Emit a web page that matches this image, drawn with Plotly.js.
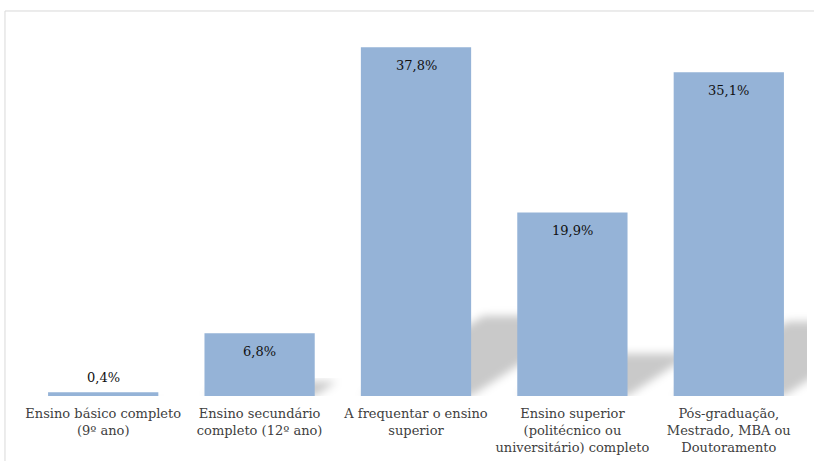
<!DOCTYPE html>
<html>
<head>
<meta charset="utf-8">
<script src="https://cdn.plot.ly/plotly-3.0.1.min.js"></script>
<style>
  html, body { margin: 0; padding: 0; background: #ffffff; }
  #chart { width: 814px; height: 461px; }
</style>
</head>
<body>
<div id="chart"></div>
<script>
// ---- data ----
var categories = [
  "Ensino básico completo<br>(9º ano)",
  "Ensino secundário<br>completo (12º ano)",
  "A frequentar o ensino<br>superior",
  "Ensino superior<br>(politécnico ou<br>universitário) completo",
  "Pós-graduação,<br>Mestrado, MBA ou<br>Doutoramento"
];
var values = [0.4, 6.8, 37.8, 19.9, 35.1];
var valueLabels = ["0,4%", "6,8%", "37,8%", "19,9%", "35,1%"];

// ---- build ----
var serif = "DejaVu Serif, serif";
var positions = categories.map(function (_, i) { return i; });
var barGap = 0.295;
var halfW = (1 - barGap) / 2;

var trace = {
  type: 'bar',
  x: positions,
  y: values,
  marker: { color: '#95B3D7', line: { width: 0 } },
  hoverinfo: 'none'
};

var annotations = values.map(function (v, i) {
  var outside = v < 3;
  return {
    x: positions[i], y: v, xref: 'x', yref: 'y',
    text: valueLabels[i],
    showarrow: false,
    yanchor: outside ? 'bottom' : 'top',
    yshift: outside ? 5 : -9,
    font: { family: serif, size: 13, color: '#111111' }
  };
});

// perspective shadows cast back-right from each bar
var rise = 0.23, lean = 0.0207;
var shapes = values.map(function (v, i) {
  var x0 = positions[i] - halfW, x1 = positions[i] + halfW;
  var d = lean * v, t = rise * v;
  return {
    type: 'path', xref: 'x', yref: 'y', layer: 'below',
    path: 'M ' + x0 + ',0 L ' + x1 + ',0 L ' + (x1 + d) + ',' + t + ' L ' + (x0 + d) + ',' + t + ' Z',
    fillcolor: 'rgba(0,0,0,0.21)',
    line: { width: 0 }
  };
});
// outer chart border
shapes.push({
  type: 'rect', xref: 'paper', yref: 'paper', layer: 'above',
  x0: -0.0256, x1: 1.1, y0: -0.4, y1: 1.0434,
  line: { color: '#d9d9d9', width: 1 },
  fillcolor: 'rgba(0,0,0,0)'
});

var layout = {
  width: 814, height: 461,
  margin: { l: 25, r: 7, t: 27, b: 65 },
  paper_bgcolor: '#ffffff', plot_bgcolor: '#ffffff',
  showlegend: false,
  bargap: barGap,
  font: { family: serif },
  xaxis: {
    type: 'linear',
    range: [-0.5, positions.length - 0.5],
    tickvals: positions,
    ticktext: categories,
    tickangle: 0,
    showgrid: false, zeroline: false, showline: false, ticks: '',
    tickfont: { family: serif, size: 13, color: '#404040' },
    ticklabelstandoff: 8,
    fixedrange: true
  },
  yaxis: {
    range: [0, 40],
    showgrid: false, zeroline: false, showline: false,
    showticklabels: false, ticks: '',
    fixedrange: true
  },
  annotations: annotations,
  shapes: shapes
};

Plotly.newPlot('chart', [trace], layout, { staticPlot: true, displayModeBar: false }).then(function (gd) {
  var svg = gd.querySelector('svg.main-svg');
  var ns = 'http://www.w3.org/2000/svg';
  var defs = svg.querySelector('defs') || svg.insertBefore(document.createElementNS(ns, 'defs'), svg.firstChild);
  var f = document.createElementNS(ns, 'filter');
  f.setAttribute('id', 'shadowBlur');
  f.setAttribute('x', '-20%'); f.setAttribute('y', '-20%');
  f.setAttribute('width', '140%'); f.setAttribute('height', '140%');
  var b = document.createElementNS(ns, 'feGaussianBlur');
  b.setAttribute('stdDeviation', '4');
  f.appendChild(b);
  defs.appendChild(f);
  gd.querySelectorAll('.shapelayer path').forEach(function (p) {
    var idx = +p.getAttribute('data-index');
    if (idx < values.length) p.setAttribute('filter', 'url(#shadowBlur)');
  });
});
</script>
</body>
</html>
